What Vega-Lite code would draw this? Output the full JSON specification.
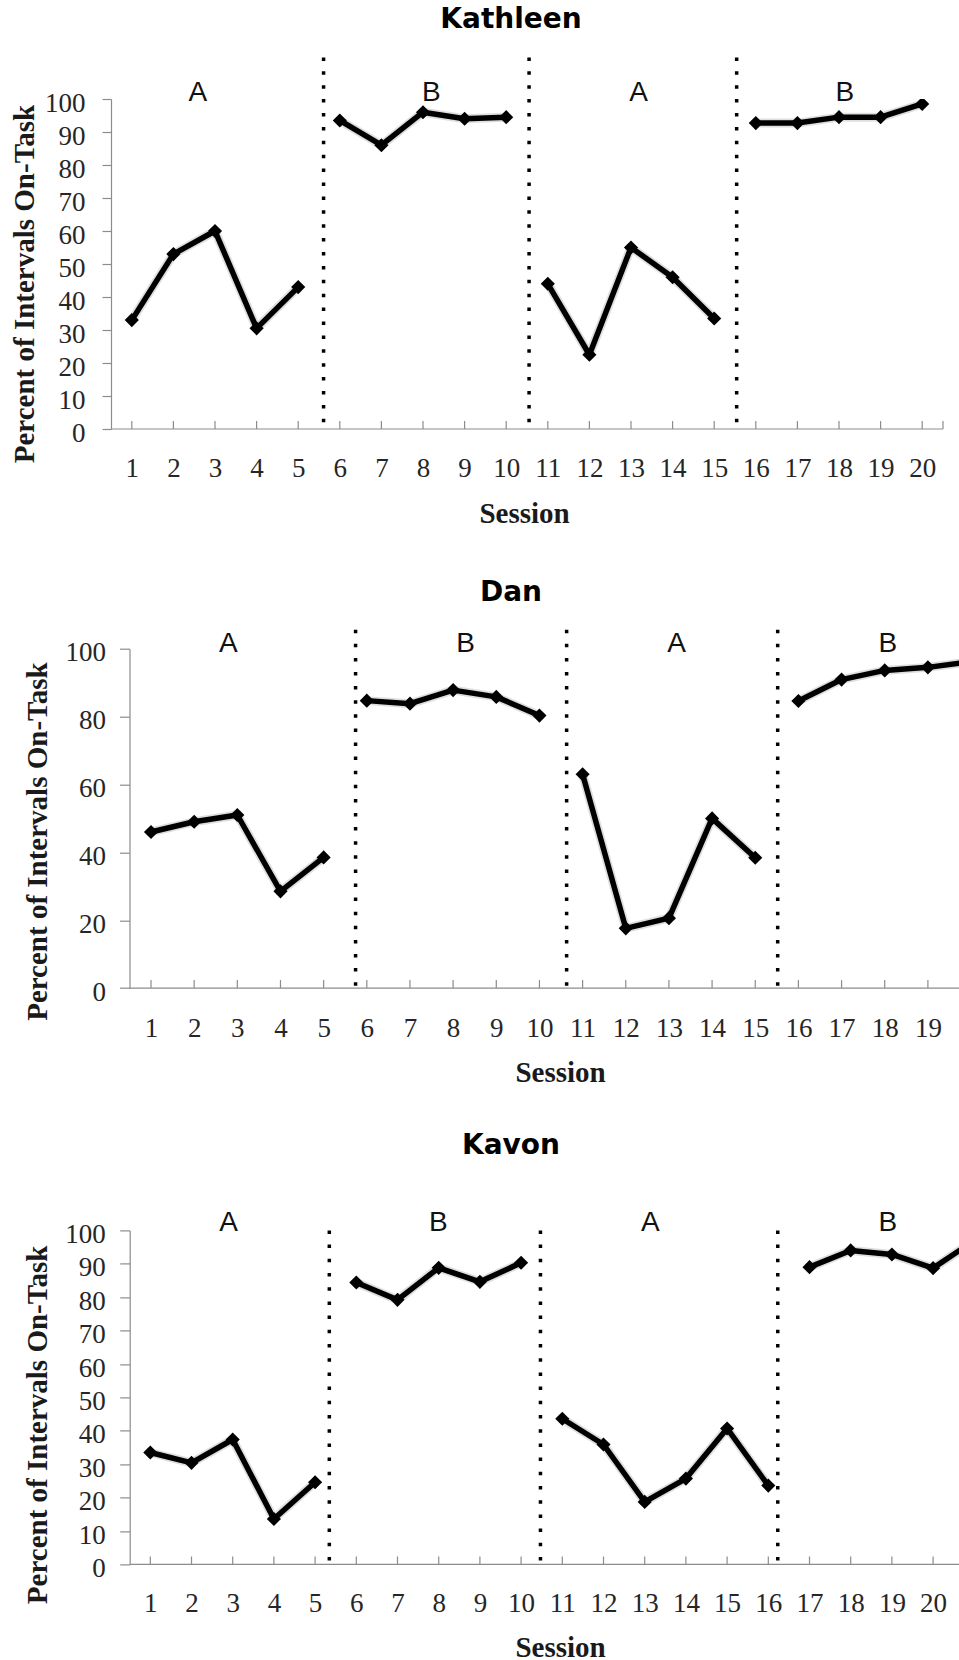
{
  "$schema": "https://vega.github.io/schema/vega-lite/v6.json",
  "padding": {"left": 10, "top": 6, "right": 0, "bottom": 0},
  "spacing": 43.7,
  "config": {
    "view": {"stroke": null},
    "axis": {"labelFont": "Liberation Serif", "labelFontSize": 27, "labelColor": "#262626", "titleFont": "Liberation Serif", "titleFontSize": 29, "titleFontWeight": "bold", "titleColor": "#1a1a1a", "domainColor": "#8c8c8c", "domainWidth": 1.2, "tickColor": "#8c8c8c", "tickWidth": 1.2, "grid": false, "labelOverlap": false},
    "title": {"font": "DejaVu Sans", "fontSize": 28, "fontWeight": "bold", "color": "#000000", "anchor": "middle", "frame": "group"}
  },
  "datasets": {
    "kathleen": [
      {"s": 1, "v": 33, "ph": 1}, {"s": 2, "v": 53, "ph": 1}, {"s": 3, "v": 60, "ph": 1}, {"s": 4, "v": 30.5, "ph": 1}, {"s": 5, "v": 43, "ph": 1},
      {"s": 6, "v": 93.5, "ph": 2}, {"s": 7, "v": 86, "ph": 2}, {"s": 8, "v": 96, "ph": 2}, {"s": 9, "v": 94, "ph": 2}, {"s": 10, "v": 94.5, "ph": 2},
      {"s": 11, "v": 44, "ph": 3}, {"s": 12, "v": 22.5, "ph": 3}, {"s": 13, "v": 55, "ph": 3}, {"s": 14, "v": 46, "ph": 3}, {"s": 15, "v": 33.5, "ph": 3},
      {"s": 16, "v": 92.7, "ph": 4}, {"s": 17, "v": 92.7, "ph": 4}, {"s": 18, "v": 94.5, "ph": 4}, {"s": 19, "v": 94.5, "ph": 4}, {"s": 20, "v": 98.5, "ph": 4}
    ],
    "dan": [
      {"s": 1, "v": 46, "ph": 1}, {"s": 2, "v": 49, "ph": 1}, {"s": 3, "v": 51, "ph": 1}, {"s": 4, "v": 28.5, "ph": 1}, {"s": 5, "v": 38.5, "ph": 1},
      {"s": 6, "v": 84.7, "ph": 2}, {"s": 7, "v": 83.8, "ph": 2}, {"s": 8, "v": 87.8, "ph": 2}, {"s": 9, "v": 85.8, "ph": 2}, {"s": 10, "v": 80.3, "ph": 2},
      {"s": 11, "v": 63, "ph": 3}, {"s": 12, "v": 17.6, "ph": 3}, {"s": 13, "v": 20.6, "ph": 3}, {"s": 14, "v": 50, "ph": 3}, {"s": 15, "v": 38.4, "ph": 3},
      {"s": 16, "v": 84.6, "ph": 4}, {"s": 17, "v": 90.9, "ph": 4}, {"s": 18, "v": 93.6, "ph": 4}, {"s": 19, "v": 94.5, "ph": 4}, {"s": 20, "v": 96.2, "ph": 4}
    ],
    "kavon": [
      {"s": 1, "v": 33.5, "ph": 1}, {"s": 2, "v": 30.4, "ph": 1}, {"s": 3, "v": 37.4, "ph": 1}, {"s": 4, "v": 13.6, "ph": 1}, {"s": 5, "v": 24.6, "ph": 1},
      {"s": 6, "v": 84.4, "ph": 2}, {"s": 7, "v": 79.2, "ph": 2}, {"s": 8, "v": 88.8, "ph": 2}, {"s": 9, "v": 84.6, "ph": 2}, {"s": 10, "v": 90.3, "ph": 2},
      {"s": 11, "v": 43.6, "ph": 3}, {"s": 12, "v": 35.9, "ph": 3}, {"s": 13, "v": 18.7, "ph": 3}, {"s": 14, "v": 25.7, "ph": 3}, {"s": 15, "v": 40.7, "ph": 3}, {"s": 16, "v": 23.6, "ph": 3},
      {"s": 17, "v": 89, "ph": 4}, {"s": 18, "v": 94, "ph": 4}, {"s": 19, "v": 92.8, "ph": 4}, {"s": 20, "v": 88.7, "ph": 4}, {"s": 21, "v": 97, "ph": 4}
    ],
    "kathleen_changes": [{"x": 5.61}, {"x": 10.55}, {"x": 15.54}],
    "dan_changes": [{"x": 5.74}, {"x": 10.63}, {"x": 15.52}],
    "kavon_changes": [{"x": 5.345}, {"x": 10.47}, {"x": 16.23}],
    "kathleen_labels": [{"x": 2.59, "t": "A"}, {"x": 8.2, "t": "B"}, {"x": 13.18, "t": "A"}, {"x": 18.14, "t": "B"}],
    "dan_labels": [{"x": 2.79, "t": "A"}, {"x": 8.29, "t": "B"}, {"x": 13.18, "t": "A"}, {"x": 18.07, "t": "B"}],
    "kavon_labels": [{"x": 2.9, "t": "A"}, {"x": 7.99, "t": "B"}, {"x": 13.14, "t": "A"}, {"x": 18.9, "t": "B"}]
  },
  "vconcat": [
    {
      "width": 832, "height": 330,
      "title": {"text": "Kathleen", "dx": -16, "offset": -0.6, "baseline": "alphabetic"},
      "layer": [
        {
          "data": {"name": "kathleen"},
          "mark": {"type": "line", "color": "#000000", "strokeWidth": 9, "opacity": 0.13, "strokeJoin": "round", "clip": true},
          "encoding": {
            "x": {"field": "s", "type": "quantitative", "scale": {"domain": [0.5, 20.5], "nice": false, "zero": false},
              "axis": {"values": [1,2,3,4,5,6,7,8,9,10,11,12,13,14,15,16,17,18,19,20], "title": ["Session", ""], "titleLineHeight": 5.3, "domain": false, "ticks": false, "tickSize": 0, "labelPadding": 26, "titlePadding": 18.5, "titleX": 413, "labelFlush": false, "labelOverlap": false}},
            "y": {"field": "v", "type": "quantitative", "scale": {"domain": [0, 100], "nice": false, "zero": false},
              "axis": {"values": [0,10,20,30,40,50,60,70,80,90,100], "tickCount": 11, "title": "Percent of Intervals On-Task", "tickSize": 9, "labelPadding": 17, "labelOffset": 4, "labelOverlap": false, "titlePadding": 5.5, "titleY": 184.5}},
            "detail": {"field": "ph"}
          }
        },
        {
          "data": {"name": "kathleen"},
          "mark": {"type": "line", "color": "#000000", "strokeWidth": 5.5, "strokeJoin": "round", "clip": true},
          "encoding": {
            "x": {"field": "s", "type": "quantitative"},
            "y": {"field": "v", "type": "quantitative"},
            "detail": {"field": "ph"}
          }
        },
        {
          "data": {"name": "kathleen_changes"},
          "mark": {"type": "rule", "color": "#000000", "strokeWidth": 3.5, "strokeDash": [3.5, 10.4], "strokeCap": "butt"},
          "encoding": {
            "x": {"field": "x", "type": "quantitative"},
            "y": {"datum": 112.6, "type": "quantitative"},
            "y2": {"datum": 0}
          }
        },
        {
          "data": {"values": [{}]},
          "mark": {"type": "rule", "color": "#8c8c8c", "strokeWidth": 1.2},
          "encoding": {
            "x": {"datum": 0.5, "type": "quantitative"},
            "x2": {"datum": 20.5},
            "y": {"datum": 0, "type": "quantitative"}
          }
        },
        {
          "data": {"values": [{}]},
          "mark": {"type": "rule", "color": "#8c8c8c", "strokeWidth": 1.2},
          "encoding": {
            "x": {"datum": 20.5, "type": "quantitative"},
            "y": {"datum": 0, "type": "quantitative"},
            "y2": {"datum": 2.4}
          }
        },
        {
          "data": {"name": "kathleen"},
          "mark": {"type": "rule", "color": "#8c8c8c", "strokeWidth": 1.2, "clip": true},
          "encoding": {
            "x": {"field": "s", "type": "quantitative"},
            "y": {"datum": 0, "type": "quantitative"},
            "y2": {"datum": 2.4}
          }
        },
        {
          "data": {"name": "kathleen"},
          "mark": {"type": "point", "shape": "diamond", "filled": true, "color": "#000000", "opacity": 1, "size": 200, "clip": true},
          "encoding": {
            "x": {"field": "s", "type": "quantitative"},
            "y": {"field": "v", "type": "quantitative"}
          }
        },
        {
          "data": {"name": "kathleen_labels"},
          "mark": {"type": "text", "font": "Liberation Sans", "fontSize": 28, "baseline": "alphabetic", "align": "center", "color": "#111111"},
          "encoding": {
            "x": {"field": "x", "type": "quantitative"},
            "y": {"datum": 99.35, "type": "quantitative"},
            "text": {"field": "t"}
          }
        }
      ]
    },
    {
      "width": 849, "height": 339.4,
      "title": {"text": "Dan", "dx": -24.5, "offset": -0.7, "baseline": "alphabetic"},
      "layer": [
        {
          "data": {"name": "dan"},
          "mark": {"type": "line", "color": "#000000", "strokeWidth": 9, "opacity": 0.13, "strokeJoin": "round", "clip": true},
          "encoding": {
            "x": {"field": "s", "type": "quantitative", "scale": {"domain": [0.0732, 19.744], "nice": false, "zero": false},
              "axis": {"values": [1,2,3,4,5,6,7,8,9,10,11,12,13,14,15,16,17,18,19], "title": "Session", "domain": false, "ticks": false, "tickSize": 0, "labelPadding": 27, "titlePadding": 17, "titleX": 449, "labelFlush": false, "labelOverlap": false}},
            "y": {"field": "v", "type": "quantitative", "scale": {"domain": [0, 100], "nice": false, "zero": false},
              "axis": {"values": [0,20,40,60,80,100], "tickCount": 6, "title": "Percent of Intervals On-Task", "offset": -18.5, "tickSize": 10, "labelPadding": 14, "labelOffset": 4, "labelOverlap": false, "titlePadding": 12.9, "titleY": 192.4}},
            "detail": {"field": "ph"}
          }
        },
        {
          "data": {"name": "dan"},
          "mark": {"type": "line", "color": "#000000", "strokeWidth": 5.5, "strokeJoin": "round", "clip": true},
          "encoding": {
            "x": {"field": "s", "type": "quantitative"},
            "y": {"field": "v", "type": "quantitative"},
            "detail": {"field": "ph"}
          }
        },
        {
          "data": {"name": "dan_changes"},
          "mark": {"type": "rule", "color": "#000000", "strokeWidth": 3.5, "strokeDash": [3.5, 10.6], "strokeCap": "butt"},
          "encoding": {
            "x": {"field": "x", "type": "quantitative"},
            "y": {"datum": 105.6, "type": "quantitative"},
            "y2": {"datum": 0}
          }
        },
        {
          "data": {"values": [{}]},
          "mark": {"type": "rule", "color": "#8c8c8c", "strokeWidth": 1.2},
          "encoding": {
            "x": {"datum": 0.5, "type": "quantitative"},
            "x2": {"datum": 19.744},
            "y": {"datum": 0, "type": "quantitative"}
          }
        },
        {
          "data": {"name": "dan"},
          "mark": {"type": "rule", "color": "#8c8c8c", "strokeWidth": 1.2, "clip": true},
          "encoding": {
            "x": {"field": "s", "type": "quantitative"},
            "y": {"datum": 0, "type": "quantitative"},
            "y2": {"datum": 2.36}
          }
        },
        {
          "data": {"name": "dan"},
          "mark": {"type": "point", "shape": "diamond", "filled": true, "color": "#000000", "opacity": 1, "size": 200, "clip": true},
          "encoding": {
            "x": {"field": "s", "type": "quantitative"},
            "y": {"field": "v", "type": "quantitative"}
          }
        },
        {
          "data": {"name": "dan_labels"},
          "mark": {"type": "text", "font": "Liberation Sans", "fontSize": 28, "baseline": "alphabetic", "align": "center", "color": "#111111"},
          "encoding": {
            "x": {"field": "x", "type": "quantitative"},
            "y": {"datum": 99, "type": "quantitative"},
            "text": {"field": "t"}
          }
        }
      ]
    },
    {
      "width": 849, "height": 334,
      "title": {"text": "Kavon", "dx": -24.5, "offset": 27.6, "baseline": "alphabetic"},
      "layer": [
        {
          "data": {"name": "kavon"},
          "mark": {"type": "line", "color": "#000000", "strokeWidth": 9, "opacity": 0.13, "strokeJoin": "round", "clip": true},
          "encoding": {
            "x": {"field": "s", "type": "quantitative", "scale": {"domain": [0.046, 20.653], "nice": false, "zero": false},
              "axis": {"values": [1,2,3,4,5,6,7,8,9,10,11,12,13,14,15,16,17,18,19,20], "title": "Session", "domain": false, "ticks": false, "tickSize": 0, "labelPadding": 26, "titlePadding": 17, "titleX": 449, "labelFlush": false, "labelOverlap": false}},
            "y": {"field": "v", "type": "quantitative", "scale": {"domain": [0, 100], "nice": false, "zero": false},
              "axis": {"values": [0,10,20,30,40,50,60,70,80,90,100], "tickCount": 11, "title": "Percent of Intervals On-Task", "offset": -18.7, "tickSize": 10, "labelPadding": 14.5, "labelOffset": 4, "labelOverlap": false, "titlePadding": 12.4, "titleY": 194}},
            "detail": {"field": "ph"}
          }
        },
        {
          "data": {"name": "kavon"},
          "mark": {"type": "line", "color": "#000000", "strokeWidth": 5.5, "strokeJoin": "round", "clip": true},
          "encoding": {
            "x": {"field": "s", "type": "quantitative"},
            "y": {"field": "v", "type": "quantitative"},
            "detail": {"field": "ph"}
          }
        },
        {
          "data": {"name": "kavon_changes"},
          "mark": {"type": "rule", "color": "#000000", "strokeWidth": 3.5, "strokeDash": [3.5, 10.7], "strokeCap": "butt"},
          "encoding": {
            "x": {"field": "x", "type": "quantitative"},
            "y": {"datum": 100, "type": "quantitative"},
            "y2": {"datum": -0.5}
          }
        },
        {
          "data": {"values": [{}]},
          "mark": {"type": "rule", "color": "#8c8c8c", "strokeWidth": 1.2},
          "encoding": {
            "x": {"datum": 0.5, "type": "quantitative"},
            "x2": {"datum": 20.653},
            "y": {"datum": 0, "type": "quantitative"}
          }
        },
        {
          "data": {"name": "kavon"},
          "mark": {"type": "rule", "color": "#8c8c8c", "strokeWidth": 1.2, "clip": true},
          "encoding": {
            "x": {"field": "s", "type": "quantitative"},
            "y": {"datum": 0, "type": "quantitative"},
            "y2": {"datum": 2.4}
          }
        },
        {
          "data": {"name": "kavon"},
          "mark": {"type": "point", "shape": "diamond", "filled": true, "color": "#000000", "opacity": 1, "size": 200, "clip": true},
          "encoding": {
            "x": {"field": "s", "type": "quantitative"},
            "y": {"field": "v", "type": "quantitative"}
          }
        },
        {
          "data": {"name": "kavon_labels"},
          "mark": {"type": "text", "font": "Liberation Sans", "fontSize": 28, "baseline": "alphabetic", "align": "center", "color": "#111111"},
          "encoding": {
            "x": {"field": "x", "type": "quantitative"},
            "y": {"datum": 99.7, "type": "quantitative"},
            "text": {"field": "t"}
          }
        }
      ]
    }
  ]
}
